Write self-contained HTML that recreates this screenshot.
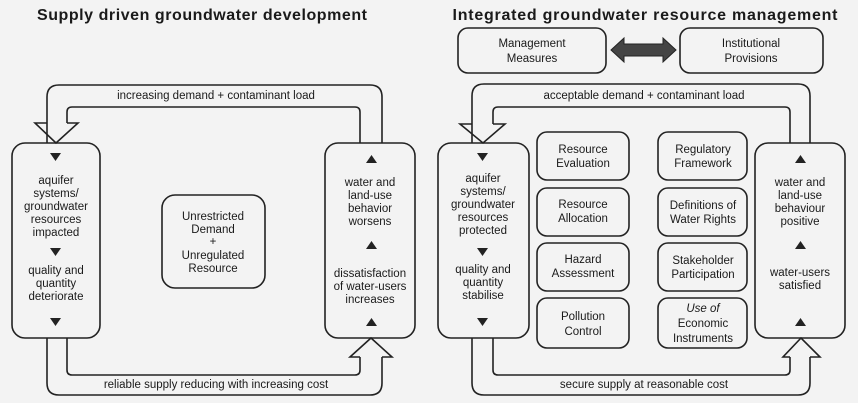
<!DOCTYPE html>
<html><head><meta charset="utf-8"><style>
html,body{margin:0;padding:0;background:#f3f3f3;}
svg{display:block;}
text{font-family:"Liberation Sans",Arial,sans-serif;fill:#1a1a1a;}
.t{font-size:11.5px;text-anchor:middle;}
.h{font-size:16px;font-weight:bold;}
.b{fill:none;stroke:#222;stroke-width:1.6;}
</style></head><body>
<svg width="858" height="403" viewBox="0 0 858 403" xmlns="http://www.w3.org/2000/svg">
<rect width="858" height="403" fill="#f3f3f3"/>
<text class="h" x="202" y="20" text-anchor="middle" textLength="330">Supply driven groundwater development</text>
<text class="h" x="645" y="20" text-anchor="middle" textLength="385">Integrated groundwater resource management</text>

<!-- LEFT PANEL -->
<path class="b" d="M47,143 V97 Q47,85 59,85 H370 Q382,85 382,97 V143"/>
<path class="b" d="M67,123 V112 Q67,107 72,107 H355 Q360,107 360,112 V143"/>
<path class="b" d="M47,123 H35 L56,143 L78,123 H67" fill="#f3f3f3"/>
<path class="b" d="M47,338 V383 Q47,395 59,395 H370 Q382,395 382,383 V357"/>
<path class="b" d="M67,338 V370 Q67,375 72,375 H355 Q360,375 360,370 V357"/>
<path class="b" d="M360,357 H350 L371,338 L392,357 H382"/>
<rect class="b" x="12" y="143" width="88" height="195" rx="13"/>
<rect class="b" x="325" y="143" width="90" height="195" rx="13"/>
<rect class="b" x="162" y="195" width="103" height="93" rx="13"/>
<text class="t" x="216" y="99">increasing demand + contaminant load</text>
<text class="t" x="216" y="388">reliable supply reducing with increasing cost</text>
<g fill="#222">
<path d="M50,153 h11 l-5.5,8z"/><path d="M50,248 h11 l-5.5,8z"/><path d="M50,318 h11 l-5.5,8z"/>
<path d="M366,163 h11 l-5.5,-8z"/><path d="M366,249 h11 l-5.5,-8z"/><path d="M366,326 h11 l-5.5,-8z"/>
</g>
<text class="t" x="56" y="184">aquifer</text><text class="t" x="56" y="197">systems/</text><text class="t" x="56" y="210">groundwater</text><text class="t" x="56" y="223">resources</text><text class="t" x="56" y="236">impacted</text>
<text class="t" x="56" y="274">quality and</text><text class="t" x="56" y="287">quantity</text><text class="t" x="56" y="300">deteriorate</text>
<text class="t" x="370" y="186">water and</text><text class="t" x="370" y="199">land-use</text><text class="t" x="370" y="212">behavior</text><text class="t" x="370" y="225">worsens</text>
<text class="t" x="370" y="277">dissatisfaction</text><text class="t" x="370" y="290">of water-users</text><text class="t" x="370" y="303">increases</text>
<text class="t" x="213" y="220">Unrestricted</text><text class="t" x="213" y="233">Demand</text><text class="t" x="213" y="245">+</text><text class="t" x="213" y="259">Unregulated</text><text class="t" x="213" y="272">Resource</text>

<!-- RIGHT PANEL -->
<rect class="b" x="458" y="28" width="148" height="45" rx="10"/>
<rect class="b" x="680" y="28" width="143" height="45" rx="10"/>
<path d="M611,50 L624,38 V44 H663 V38 L676,50 L663,62 V56 H624 V62 Z" fill="#444" stroke="#222"/>
<text class="t" x="532" y="47">Management</text><text class="t" x="532" y="62">Measures</text>
<text class="t" x="751" y="47">Institutional</text><text class="t" x="751" y="62">Provisions</text>

<path class="b" d="M472,143 V96 Q472,84 484,84 H798 Q810,84 810,96 V143"/>
<path class="b" d="M493,124 V112 Q493,107 498,107 H785 Q790,107 790,112 V143"/>
<path class="b" d="M472,124 H460 L483,143 L505,124 H493"/>
<path class="b" d="M472,338 V383 Q472,395 484,395 H798 Q810,395 810,383 V357"/>
<path class="b" d="M493,338 V370 Q493,375 498,375 H785 Q790,375 790,370 V357"/>
<path class="b" d="M790,357 H783 L801,338 L820,357 H810"/>
<rect class="b" x="438" y="143" width="91" height="195" rx="13"/>
<rect class="b" x="755" y="143" width="90" height="195" rx="13"/>
<text class="t" x="644" y="99">acceptable demand + contaminant load</text>
<text class="t" x="644" y="388">secure supply at reasonable cost</text>
<g fill="#222">
<path d="M477,153 h11 l-5.5,8z"/><path d="M477,248 h11 l-5.5,8z"/><path d="M477,318 h11 l-5.5,8z"/>
<path d="M795,163 h11 l-5.5,-8z"/><path d="M795,249 h11 l-5.5,-8z"/><path d="M795,326 h11 l-5.5,-8z"/>
</g>
<text class="t" x="483" y="182">aquifer</text><text class="t" x="483" y="195">systems/</text><text class="t" x="483" y="208">groundwater</text><text class="t" x="483" y="221">resources</text><text class="t" x="483" y="234">protected</text>
<text class="t" x="483" y="273">quality and</text><text class="t" x="483" y="286">quantity</text><text class="t" x="483" y="299">stabilise</text>
<text class="t" x="800" y="186">water and</text><text class="t" x="800" y="199">land-use</text><text class="t" x="800" y="212">behaviour</text><text class="t" x="800" y="225">positive</text>
<text class="t" x="800" y="276">water-users</text><text class="t" x="800" y="289">satisfied</text>

<rect class="b" x="537" y="132" width="92" height="48" rx="10"/>
<rect class="b" x="537" y="188" width="92" height="48" rx="10"/>
<rect class="b" x="537" y="243" width="92" height="48" rx="10"/>
<rect class="b" x="537" y="298" width="92" height="50" rx="10"/>
<rect class="b" x="658" y="132" width="89" height="48" rx="10"/>
<rect class="b" x="658" y="188" width="89" height="48" rx="10"/>
<rect class="b" x="658" y="243" width="89" height="48" rx="10"/>
<rect class="b" x="658" y="298" width="89" height="50" rx="10"/>
<text class="t" x="583" y="153">Resource</text><text class="t" x="583" y="167">Evaluation</text>
<text class="t" x="583" y="208">Resource</text><text class="t" x="583" y="222">Allocation</text>
<text class="t" x="583" y="263">Hazard</text><text class="t" x="583" y="277">Assessment</text>
<text class="t" x="583" y="320">Pollution</text><text class="t" x="583" y="335">Control</text>
<text class="t" x="703" y="153">Regulatory</text><text class="t" x="703" y="167">Framework</text>
<text class="t" x="703" y="209">Definitions of</text><text class="t" x="703" y="223">Water Rights</text>
<text class="t" x="703" y="264">Stakeholder</text><text class="t" x="703" y="278">Participation</text>
<text class="t" x="703" y="312" font-style="italic">Use of</text><text class="t" x="703" y="327">Economic</text><text class="t" x="703" y="342">Instruments</text>
</svg>
</body></html>
